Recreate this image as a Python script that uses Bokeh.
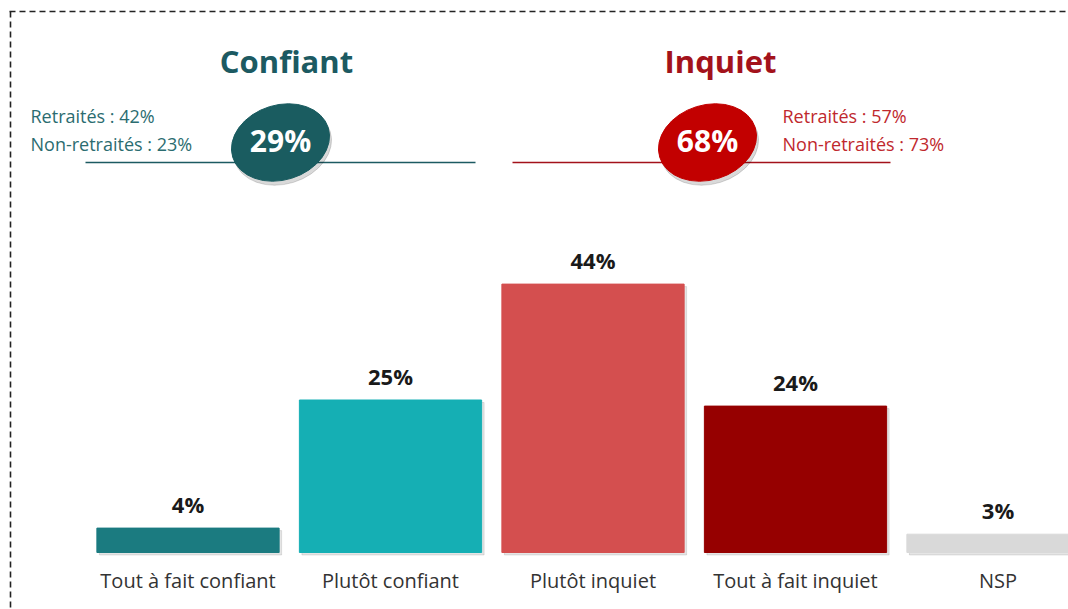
from bokeh.plotting import figure
from bokeh.models import Range1d, ColumnDataSource
from bokeh.core.properties import value
from bokeh.embed import file_html
from bokeh.resources import INLINE

# ---- data ----
categories = ["Tout à fait confiant", "Plutôt confiant", "Plutôt inquiet", "Tout à fait inquiet", "NSP"]
values = [4, 25, 44, 24, 3]
bar_colors = ["#1b7b80", "#15afb4", "#d44f4f", "#960000", "#d9d9d9"]

groups = ["Confiant", "Inquiet"]
group_totals = [29, 68]
retraites = [42, 57]
non_retraites = [23, 73]
group_dark = ["#1c5a62", "#a3121b"]
group_text = ["#2b6c70", "#c0282d"]
group_fill = ["#1a5c60", "#c20000"]

FONT = value("Open Sans")

# ---- geometry helpers (screen px -> data) ----
W, H = 1068, 609
OX, OY = 0, 0
BAR0_PX, STEP_PX = 187.5, 202.5
BASE_PX, PX_PER_UNIT = 552.0, 6.1


def dx(sx):
    return (sx - BAR0_PX) / STEP_PX


def dy(sy):
    return (BASE_PX - sy) / PX_PER_UNIT


p = figure(width=W, height=H, output_backend="svg", toolbar_location=None,
           x_range=Range1d(dx(OX), dx(OX + W)), y_range=Range1d(dy(OY + H), dy(OY)),
           x_axis_type=None, y_axis_type=None, min_border=0)
p.grid.visible = False
p.outline_line_color = None
p.background_fill_color = "white"
p.border_fill_color = "white"

xs = list(range(len(categories)))

# dashed frame (top and left visible)
p.segment(x0=[dx(9), dx(10)], y0=[dy(11), dy(11)], x1=[dx(1075), dx(10)], y1=[dy(11), dy(615)],
          line_color="#222222", line_width=1.6, line_dash="6 4")

# bar shadows
sh_dx = 2.5 / STEP_PX
sh_dy = 2.5 / PX_PER_UNIT
p.vbar(x=[x + sh_dx for x in xs], top=[v - sh_dy for v in values], bottom=-sh_dy, width=0.9,
       color="#000000", alpha=0.10)

# bars
src = ColumnDataSource(dict(x=xs, top=values, color=bar_colors, cat=categories,
                            lab=[f"{v}%" for v in values]))
p.vbar(x="x", top="top", bottom=0, width=0.9, color="color", source=src)

# value labels
p.text(x="x", y="top", text="lab", source=src, text_align="center", text_baseline="alphabetic",
       y_offset=-24, text_font=FONT, text_font_size="22px", text_font_style="bold",
       text_color="#1a1a1a")

# category labels
p.text(x="x", y=0, text="cat", source=src, text_align="center", text_baseline="alphabetic",
       y_offset=28, text_font=FONT, text_font_size="20px", text_color="#333333")

# ---- headers ----
title_x = [286, 720]
ell_x = [280, 707]
ell_y = 142
line_span = [(85, 475), (512, 890)]
sub_x = [30, 782]

# horizontal lines
for i in range(2):
    p.line(x=[dx(line_span[i][0]), dx(line_span[i][1])], y=[dy(162), dy(162)],
           line_color=group_dark[i], line_width=1.6)

# titles
p.text(x=[dx(t) for t in title_x], y=[dy(60)] * 2, text=groups, text_align="center",
       text_baseline="alphabetic", text_font=FONT, text_font_size="31px", text_font_style="bold",
       text_color=group_dark)

# ellipse shadows + ellipses
p.ellipse(x=[dx(e + 2) for e in ell_x], y=[dy(ell_y + 4)] * 2, width=100, height=75,
          width_units="screen", height_units="screen", angle=0.3, color="#000000", alpha=0.15)
p.ellipse(x=[dx(e) for e in ell_x], y=[dy(ell_y)] * 2, width=100, height=75,
          width_units="screen", height_units="screen", angle=0.3, color=group_fill)

p.text(x=[dx(e) for e in ell_x], y=[dy(140)] * 2, text=[f"{t}%" for t in group_totals],
       text_align="center", text_baseline="alphabetic", text_font=FONT, text_font_size="30px",
       text_font_style="bold", text_color="white")

# sub labels
p.text(x=[dx(s) for s in sub_x], y=[dy(115)] * 2, text=[f"Retraités : {r}%" for r in retraites],
       text_align="left", text_baseline="alphabetic", text_font=FONT, text_font_size="18px",
       text_color=group_text)
p.text(x=[dx(s) for s in sub_x], y=[dy(143)] * 2,
       text=[f"Non-retraités : {r}%" for r in non_retraites],
       text_align="left", text_baseline="alphabetic", text_font=FONT, text_font_size="18px",
       text_color=group_text)

open("out.html", "w").write(file_html(p, INLINE))
